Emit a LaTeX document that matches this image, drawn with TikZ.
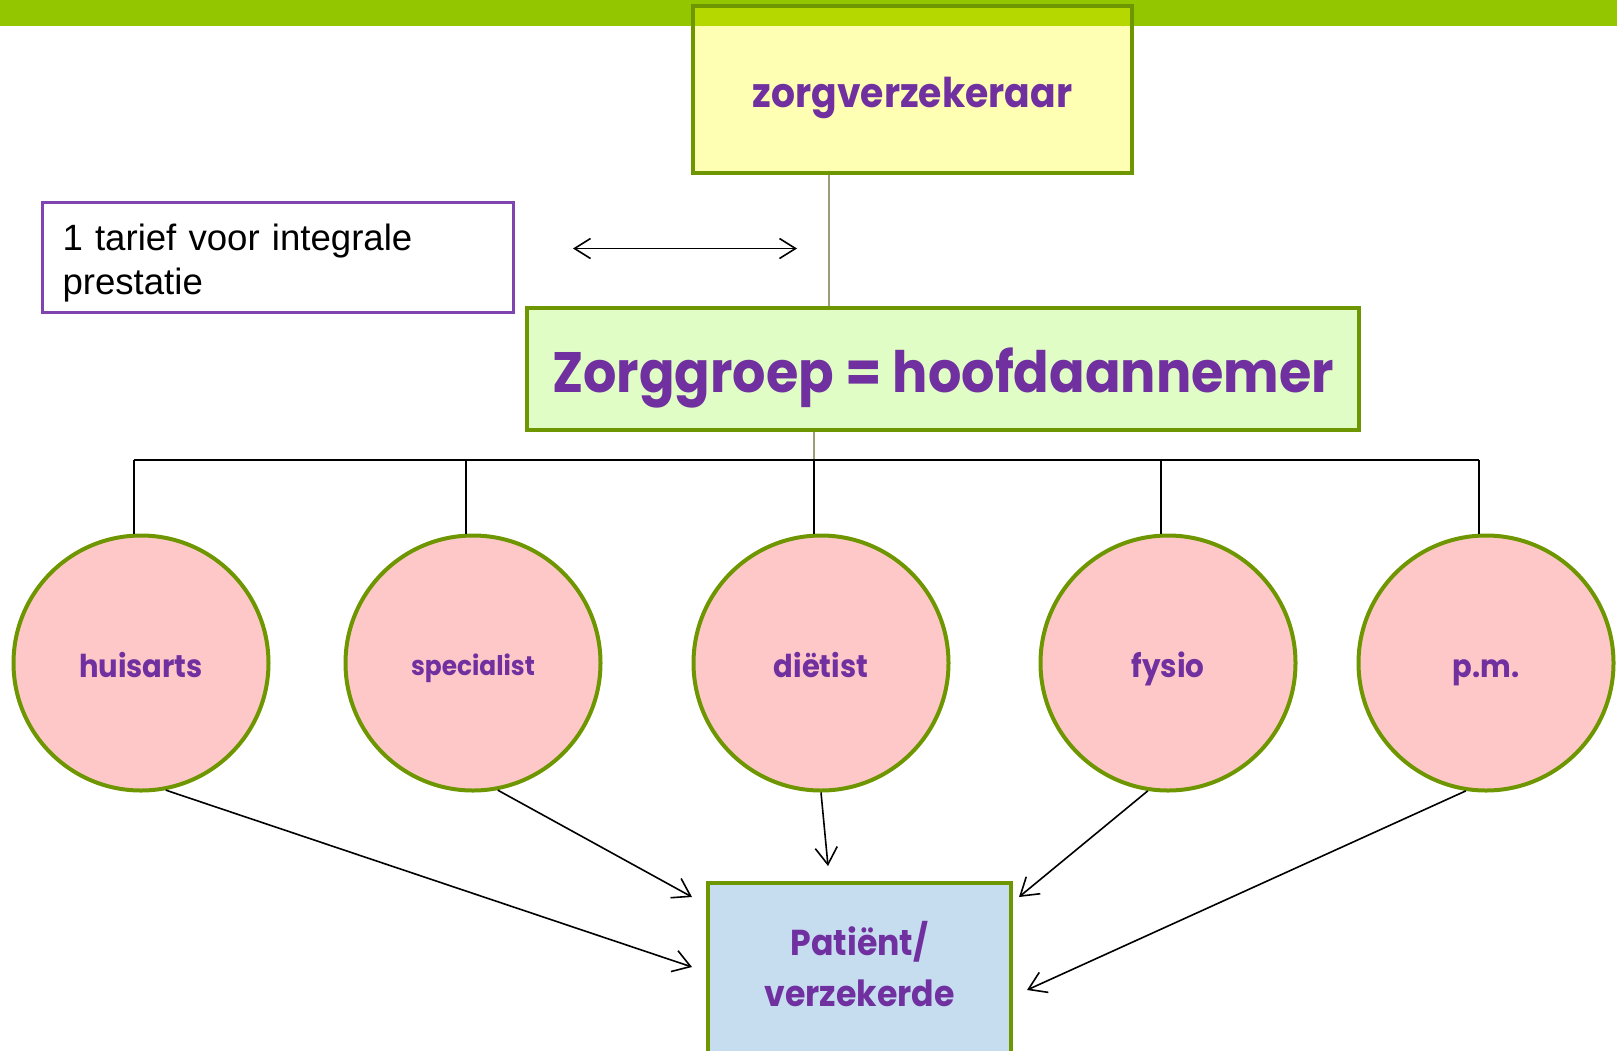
\documentclass[tikz,border=0pt]{standalone}
\usepackage{fontspec}
\setmainfont{Liberation Sans}
\newfontfamily\fut{Poppins}[FakeStretch=0.92]
\usetikzlibrary{arrows.meta}
\definecolor{barg}{HTML}{94C600}
\definecolor{overl}{HTML}{B4D800}
\definecolor{bord}{HTML}{6E9600}
\definecolor{yell}{HTML}{FFFFB3}
\definecolor{lgreen}{HTML}{E0FDC6}
\definecolor{pinkc}{HTML}{FFC8C8}
\definecolor{lblue}{HTML}{C6DDF0}
\definecolor{purp}{HTML}{7030A0}
\definecolor{tbord}{HTML}{8044B0}
\definecolor{grayl}{HTML}{9C9C78}
\tikzset{
  gbox/.style={draw=bord, line width=4pt, inner sep=0pt, font=\fut\bfseries, text=purp, align=center},
  circ/.style={circle, draw=bord, line width=4pt, fill=pinkc, minimum size=255pt, inner sep=0pt, font=\fut\bfseries, text=purp},
  conn/.style={line width=1.8pt, black},
  gline/.style={line width=1.8pt, grayl},
  arr/.style={line width=1.6pt, -{Straight Barb[length=17pt,width=22pt,line width=1.6pt]}},
}
\newcommand{\bl}[2]{\raisebox{-#1pt}[0pt][0pt]{#2}}
\begin{document}
\begin{tikzpicture}[x=1pt,y=-1pt]
\useasboundingbox (0,0) rectangle (1617,1050);
% top bar
\fill[barg] (0,0) rectangle (1617,26);
% zorgverzekeraar
\node[gbox, fill=yell, minimum width=439pt, minimum height=167pt, font=\fut\bfseries\fontsize{41}{46}\selectfont] (zv) at (912.5,89.5) {\bl{17.5}{zorgverzekeraar}};
\fill[overl] (695,8) rectangle (1130,26);
% zorggroep
\node[gbox, fill=lgreen, minimum width=832pt, minimum height=122pt, font=\fut\bfseries\fontsize{57}{62}\selectfont] (zg) at (943,369) {\bl{23}{Zorggroep = hoofdaannemer}};
% textbox
\node[draw=tbord, line width=3pt, minimum width=471pt, minimum height=110pt, text width=430pt, align=left, inner sep=0pt, font=\fontsize{36.6}{43.5}\selectfont] (tb) at (277.5,257) {\bl{15.4}{1 tarief voor integrale}\\\bl{15.4}{prestatie}};
% double arrow
\coordinate (dl) at (573,248.5);
\coordinate (dr) at (797,248.5);
\draw[line width=1.6pt, {Straight Barb[length=16pt,width=20pt,line width=1.6pt]}-{Straight Barb[length=16pt,width=20pt,line width=1.6pt]}] (dl) -- (dr);
% circles
\node[circ, font=\fut\bfseries\fontsize{31.5}{34}\selectfont] (hu) at (141,663) {\bl{14}{huisarts}};
\node[circ, font=\fut\bfseries\fontsize{27}{30}\selectfont] (sp) at (473,663) {\bl{12}{specialist}};
\node[circ, font=\fut\bfseries\fontsize{31.5}{34}\selectfont] (di) at (821,663) {\bl{14}{diëtist}};
\node[circ, font=\fut\bfseries\fontsize{32}{34}\selectfont] (fy) at (1168,663) {\bl{14}{fysio}};
\node[circ, font=\fut\bfseries\fontsize{31.5}{34}\selectfont] (pm) at (1486,663) {\bl{14}{p.m.}};
% patient
\node[gbox, fill=lblue, minimum width=303pt, minimum height=170pt, font=\fut\bfseries\fontsize{36}{51}\selectfont] (pa) at (859.5,968) {\bl{13.2}{Patiënt/}\\\bl{13.2}{verzekerde}};
% connectors
\coordinate (vx) at (829,0);
\draw[gline] (vx |- zv.south) -- (vx |- zg.north);
\coordinate (bus) at (0,460);
\draw[gline] (di.93 |- zg.south) -- (di.93 |- bus);
\draw[conn] (hu.93 |- bus) -- (pm.93 |- bus);
\foreach \n in {hu,sp,di,fy,pm} { \draw[conn] (\n.93 |- bus) -- (\n.93); }
% arrows to patient
\coordinate (a1) at (692,967);
\coordinate (a2) at (692,897);
\coordinate (a3) at (828,866);
\coordinate (a4) at (1019,897);
\coordinate (a5) at (1027,990);
\draw[arr] (hu.-79.5) -- (a1);
\draw[arr] (sp.-79.5) -- (a2);
\draw[arr] (di.-90) -- (a3);
\draw[arr] (fy.-99) -- (a4);
\draw[arr] (pm.-99.7) -- (a5);
\end{tikzpicture}
\end{document}
